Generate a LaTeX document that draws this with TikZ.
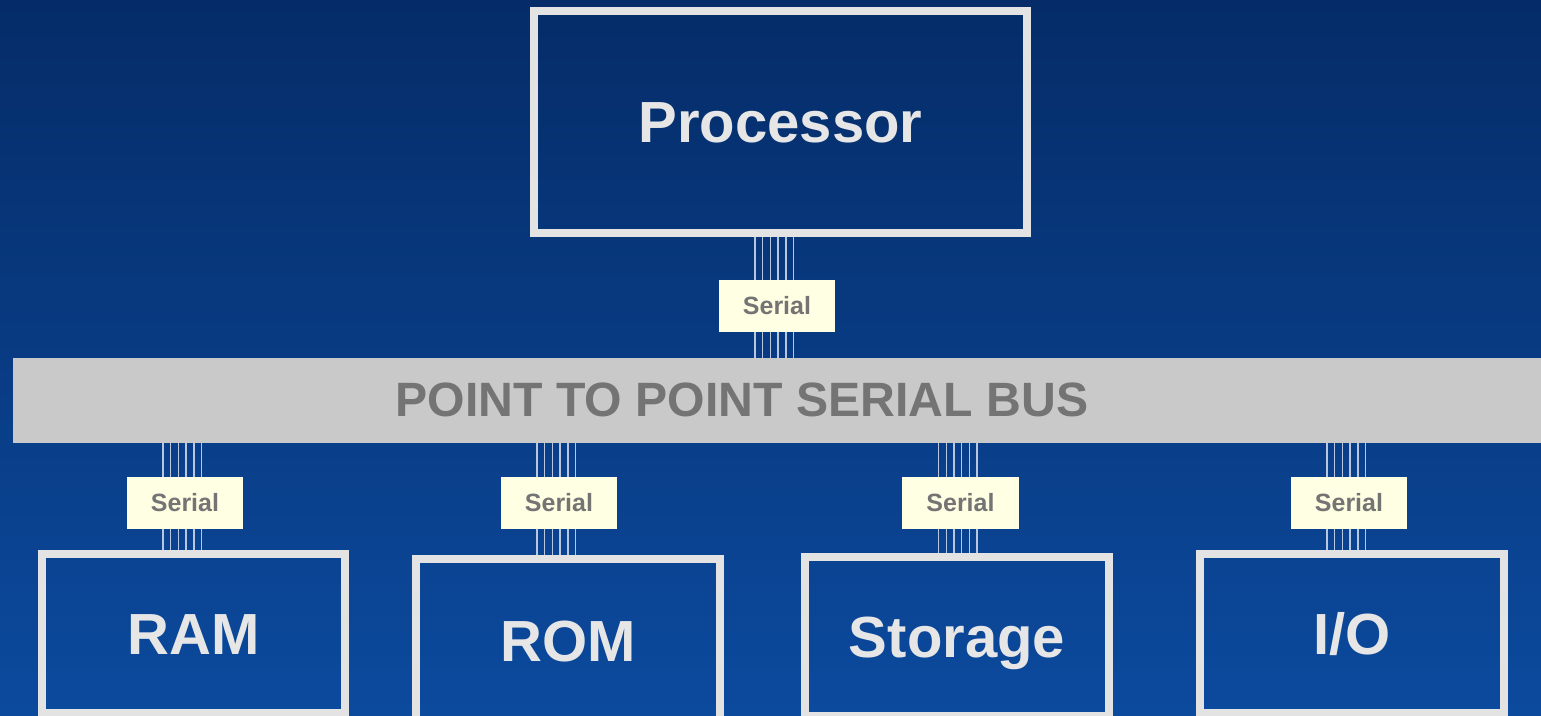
\documentclass[tikz,border=0pt]{standalone}
\usepackage{fontspec}
\setmainfont{Liberation Sans}
\usetikzlibrary{calc}

\definecolor{bgtop}{HTML}{052C68}
\definecolor{bgbot}{HTML}{0C4A9E}
\definecolor{boxline}{HTML}{E3E3E3}
\definecolor{boxtext}{HTML}{E6E6E6}
\definecolor{busgray}{HTML}{C9C9C9}
\definecolor{labgray}{HTML}{747474}
\definecolor{labfill}{HTML}{FFFFE3}
\definecolor{wirecol}{HTML}{B9C6DF}

\begin{document}
\begin{tikzpicture}[x=0.01cm, y=-0.01cm,
  unit/.style={draw=boxline, line width=0.08cm, minimum width=3.04cm, minimum height=1.59cm,
    inner sep=0, text=boxtext, text height=11.8pt, text depth=0pt,
    font=\fontsize{16.5}{18}\selectfont\bfseries},
  serlab/.style={fill=labfill, minimum width=1.16cm, minimum height=0.52cm, inner sep=0,
    outer sep=0, text=labgray, text height=5.1pt, text depth=0pt,
    font=\fontsize{7.1}{8}\selectfont\bfseries},
  wire/.style={wirecol, line width=0.4pt}]

\useasboundingbox (0,0) rectangle (1541,716);
\shade[top color=bgtop, bottom color=bgbot] (0,0) rectangle (1541,716);

% bus bar across the page
\node[fill=busgray, minimum width=15.30cm, minimum height=0.85cm, inner sep=0, outer sep=0]
  (bus) at (778,400.5) {};
\node[text=labgray, inner sep=0, text height=9.8pt, text depth=0pt,
  font=\fontsize{13.7}{15}\selectfont\bfseries] (bustitle) at (742,399) {POINT TO POINT SERIAL BUS};

% processor on top
\node[unit, minimum width=4.93cm, minimum height=2.22cm] (proc) at (780.5,122) {Processor};
\node[serlab] (sproc) at (777,306) {Serial};

% units below the bus
\node[unit, minimum width=3.03cm] (ram) at (193.5,633.5) {RAM};
\node[unit, minimum height=1.63cm] (rom) at (568,640.5) {ROM};
\node[unit] (sto) at (957,636.5) {Storage};
\node[unit] (io)  at (1352,633.5) {I/O};

\node[serlab] (sram) at (185,503) {Serial};
\node[serlab] (srom) at (559,503) {Serial};
\node[serlab] (ssto) at (960.5,503) {Serial};
\node[serlab] (sio)  at (1349,503) {Serial};

% six lines per serial link
\foreach \o in {-22,-14.3,-6.6,1.1,8.8,16.5} {
  \draw[wire] (sproc.north) ++(\o,0) coordinate (w) -- (w |- proc.south);
  \draw[wire] (sproc.south) ++(\o,0) coordinate (w) -- (w |- bus.north);
}

\foreach \s/\b in {sram/ram, srom/rom, ssto/sto, sio/io}
  \foreach \o in {-22,-14.3,-6.6,1.1,8.8,16.5} {
    \draw[wire] (\s.north) ++(\o,0) coordinate (w) -- (w |- bus.south);
    \draw[wire] (\s.south) ++(\o,0) coordinate (w) -- (w |- \b.north);
  }

\end{tikzpicture}
\end{document}
